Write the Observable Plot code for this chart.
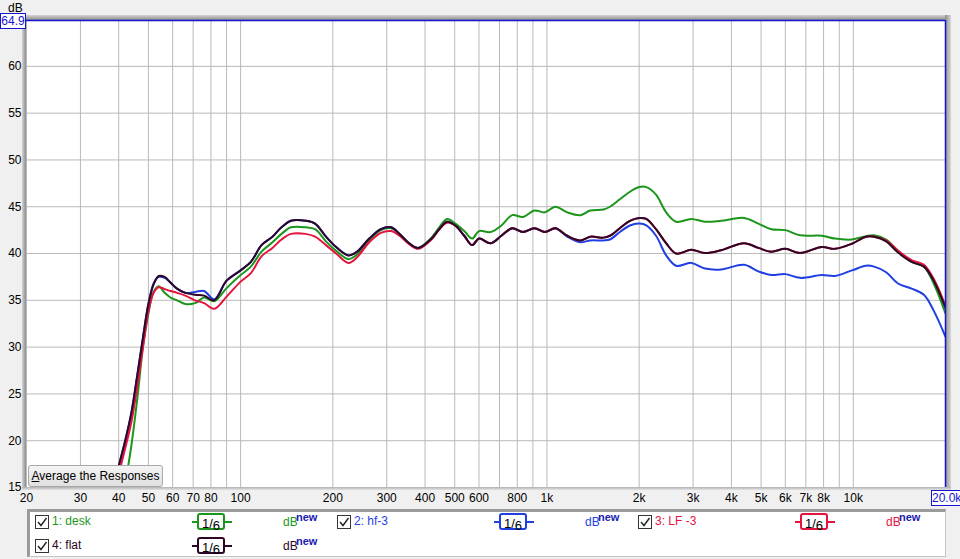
<!DOCTYPE html>
<html><head><meta charset="utf-8">
<script src="https://cdn.jsdelivr.net/npm/d3@7"></script>
<script src="https://cdn.jsdelivr.net/npm/@observablehq/plot@0.6"></script>
<style>
body{margin:0;background:#f0f0f0;width:960px;height:559px;position:relative;overflow:hidden;font-family:"Liberation Sans",Arial,sans-serif;font-size:12px;}
.abs{position:absolute}
.cb{position:absolute;width:12px;height:12px;border:1px solid #333;background:#fff}
.sw{position:absolute;height:17px;width:28px;border:2px solid;border-radius:3px;background:#fff;color:#000;font-size:13px;line-height:17px;text-align:center;box-sizing:border-box}
.swl{position:absolute;height:2px;width:40px}
.nw{position:absolute;font-weight:bold;font-size:11px;color:#1a1ab0}
</style></head><body>
<div class="abs" style="left:22px;top:15px;width:4px;height:473px;background:linear-gradient(to right,#d4d4d4,#8c8c8c)"></div>
<div class="abs" style="left:22px;top:15px;width:929px;height:5px;background:linear-gradient(to bottom,#d4d4d4,#8c8c8c)"></div>
<div class="abs" style="left:945px;top:15px;width:6px;height:476px;background:linear-gradient(to right,#8c8c8c,#d8d8d8)"></div>
<div class="abs" style="left:22px;top:487px;width:929px;height:3px;background:linear-gradient(to bottom,#b0b0b0,#e4e4e4)"></div>
<div id="chart" class="abs" style="left:0;top:0"></div>
<div class="abs" style="left:8px;top:1px;font-size:12px;color:#000">dB</div>
<div class="abs" style="left:0;top:13px;width:24px;height:14px;border:1px solid #1414d2;background:#fff;color:#1414d2;line-height:14px;text-align:center">64.9</div>
<div class="abs" style="left:931px;top:490px;width:28px;height:14px;border:1px solid #1414d2;background:#fff;color:#1414d2;line-height:14px;text-align:center">20.0k</div>
<div class="abs" style="left:28px;top:465px;width:133px;height:20px;border:1px solid #a8a8a8;border-radius:3px;background:linear-gradient(#f4f4f4,#e0e0e0);line-height:20px;text-align:center;color:#000"><u>A</u>verage the Responses</div>
<div id="legend" class="abs" style="left:27px;top:509px;width:915px;height:44px;background:#fff;border-left:3px solid #9a9a9a;border-top:3px solid #9a9a9a;border-right:1px solid #c4c4c4;border-bottom:1px solid #c4c4c4"></div>
<script>
const freq = [38,40,42,44,46,48,50,52,54,56.5,59,62,66,71,76,82,90,100,108,117,127,136,146,163,175,190,205,225,240,263,287,310,330,355,380,420,445,472,502,537,570,600,655,710,770,835,910,985,1065,1165,1285,1385,1530,1605,1730,1865,2005,2110,2270,2450,2640,2960,3280,3700,4400,4900,5400,6000,6700,7900,8700,9900,11000,11700,12800,14000,15500,17000,18300,20000];
const flat = [14.6,17.3,20.0,23.0,27.0,31.0,34.6,36.7,37.6,37.5,36.9,36.25,35.8,35.6,35.5,35.0,37.1,38.2,39.1,40.9,41.8,42.8,43.5,43.5,43.2,41.8,40.7,39.8,40.2,41.6,42.6,42.8,42.1,41.1,40.6,41.6,42.6,43.4,43.0,41.9,40.9,41.6,41.1,41.9,42.7,42.3,42.7,42.3,42.7,41.9,41.4,41.8,41.7,41.9,42.7,43.5,43.8,43.7,42.6,41.1,40.0,40.4,40.05,40.35,41.1,40.6,40.2,40.5,40.05,40.7,40.5,41.05,41.8,41.8,41.3,40.1,39.1,38.6,37.1,34.2];
const hf3 = [14.6,17.3,20.0,23.0,27.0,31.0,34.6,36.8,37.5,37.4,36.9,36.25,35.8,35.9,36.0,35.1,37.1,38.2,39.1,40.9,41.8,42.8,43.5,43.5,43.2,41.8,40.7,39.8,40.2,41.6,42.6,42.8,42.1,41.1,40.6,41.6,42.6,43.4,43.0,41.9,40.9,41.6,41.1,41.9,42.7,42.3,42.7,42.3,42.7,41.8,41.2,41.4,41.4,41.5,42.3,43.0,43.2,43.0,41.9,39.8,38.7,39.0,38.4,38.3,38.8,38.1,37.7,37.8,37.4,37.7,37.6,38.2,38.7,38.6,38.0,36.8,36.25,35.6,33.9,31.1];
const lf3 = [14.0,16.5,19.2,22.0,25.8,30.0,33.8,35.8,36.4,36.2,36.0,35.8,35.5,35.0,34.7,34.1,35.4,37.0,37.9,39.7,40.6,41.5,42.1,42.1,41.8,40.9,40.0,39.0,39.6,41.2,42.2,42.4,41.9,41.0,40.5,41.5,42.6,43.3,43.0,41.9,40.9,41.6,41.1,41.9,42.7,42.3,42.7,42.3,42.7,41.9,41.4,41.8,41.7,41.9,42.7,43.5,43.8,43.7,42.6,41.1,40.0,40.4,40.05,40.35,41.1,40.6,40.2,40.5,40.05,40.7,40.5,41.05,41.8,41.8,41.4,40.3,39.3,38.8,37.3,34.4];
const desk = [10.0,12.5,15.5,19.5,24.5,30.0,33.6,35.9,36.5,35.8,35.3,35.0,34.6,34.7,35.3,34.9,36.3,37.7,38.6,40.2,41.2,42.1,42.8,42.8,42.6,41.3,40.3,39.4,39.9,41.4,42.5,42.7,42.1,41.1,40.6,41.7,42.8,43.7,43.2,42.4,41.6,42.4,42.3,43.0,44.1,43.9,44.6,44.4,45.0,44.4,44.1,44.6,44.7,45.0,45.8,46.6,47.1,47.1,46.3,44.4,43.4,43.7,43.4,43.5,43.8,43.2,42.6,42.5,41.95,41.9,41.6,41.5,41.85,41.95,41.5,40.3,39.1,38.6,36.8,33.6];

const seriesNames = ["1: desk","2: hf-3","3: LF -3","4: flat"];
const seriesColors = ["#1b961b","#1f3fe3","#e5143f","#2e0726"];
const yTicks = [15,20,25,30,35,40,45,50,55,60];
const xGrid = [20,30,40,50,60,70,80,90,100,200,300,400,500,600,700,800,900,1000,2000,3000,4000,5000,6000,7000,8000,9000,10000,20000];
const xTickValues = [20,30,40,50,60,70,80,100,200,300,400,500,600,800,1000,2000,3000,4000,5000,6000,7000,8000,10000,20000];
const xTickLabels = ["20","30","40","50","60","70","80","100","200","300","400","500","600","800","1k","2k","3k","4k","5k","6k","7k","8k","10k","20k"];

const xLabelRows = xTickValues.map((v,i)=>({v, t:xTickLabels[i]}));
const rows = [];
[desk,hf3,lf3,flat].forEach((arr,i)=>arr.forEach((v,j)=>rows.push({f:freq[j], db:v, s:seriesNames[i]})));

const chart = Plot.plot({
  width:960, height:510, marginLeft:26, marginRight:15, marginTop:20, marginBottom:23,
  style:{background:"transparent", fontFamily:"Liberation Sans, Arial, sans-serif", fontSize:"12px", color:"#000", overflow:"visible"},
  x:{type:"log", domain:[20,20000], axis:null},
  y:{domain:[15,64.9], axis:null},
  color:{domain:seriesNames, range:seriesColors},
  marks:[
    Plot.frame({fill:"white", stroke:null}),
    Plot.ruleX(xGrid,{stroke:"#b9b9b9"}),
    Plot.ruleY(yTicks,{stroke:"#b9b9b9"}),
    Plot.line(rows,{x:"f", y:"db", z:"s", stroke:"s", strokeWidth:2, curve:"catmull-rom", clip:true}),
    Plot.ruleY([64.9],{stroke:"#1414d2", strokeWidth:1.5}),
    Plot.ruleX([20000],{stroke:"#1414d2", strokeWidth:1.5}),
    Plot.text(xLabelRows,{x:"v", text:"t", frameAnchor:"bottom", lineAnchor:"top", dy:6, fill:"#000", fontSize:12}),
    Plot.text(yTicks,{y:d=>d, text:d=>String(d), frameAnchor:"left", textAnchor:"end", dx:-5, fill:"#000", fontSize:12})
  ]
});
document.getElementById("chart").appendChild(chart);

// legend
const legendPos = [[35,515],[337,515],[638,515],[35,539]];
const check = '<svg width="12" height="12" viewBox="0 0 12 12" style="position:absolute;left:0;top:0"><path d="M2 6 L5 9.5 L10.5 2" fill="none" stroke="#222" stroke-width="1.4"/></svg>';
seriesNames.forEach((name,i)=>{
  const [x,y] = legendPos[i];
  const c = seriesColors[i];
  const html = `
  <div class="cb" style="left:${x}px;top:${y}px">${check}</div>
  <div class="abs" style="left:${x+17}px;top:${y-1}px;color:${c};font-size:12px;line-height:15px">${name}</div>
  <div class="swl" style="left:${x+157}px;top:${y+6}px;background:${c}"></div>
  <div class="sw" style="left:${x+162}px;top:${y-2}px;border-color:${c}">1<span style="font-size:13px">/</span><span style="position:relative;top:2px">6</span></div>
  <div class="abs" style="left:${x+248}px;top:${y}px;color:${c};font-size:12px;line-height:14px">dB</div>
  <div class="nw" style="left:${x+261}px;top:${y-4}px">new</div>`;
  document.body.insertAdjacentHTML("beforeend", html);
});
</script>
</body></html>
